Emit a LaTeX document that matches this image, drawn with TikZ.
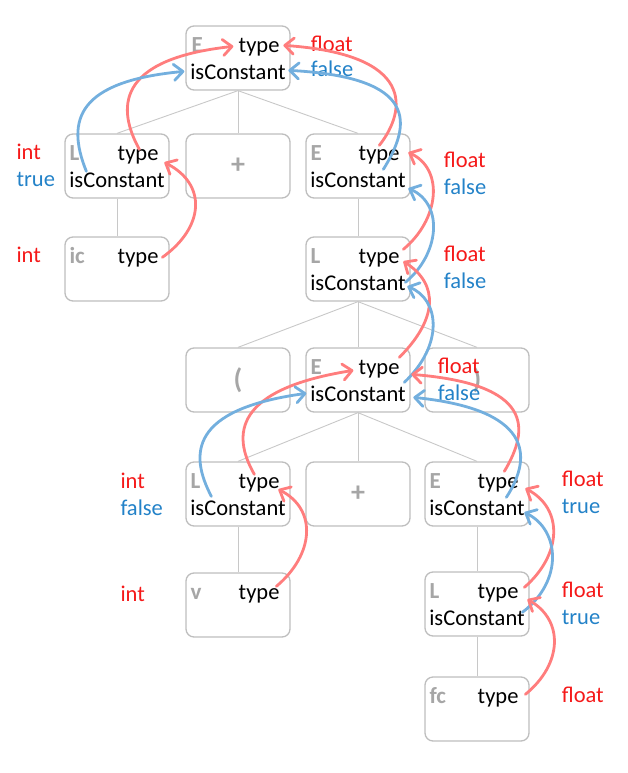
\documentclass[tikz,border=0pt]{standalone}
\usepackage{fontspec}
\setmainfont{Carlito}
\usetikzlibrary{calc,arrows.meta}
\definecolor{boxgray}{RGB}{190,190,190}
\definecolor{treegray}{RGB}{200,200,200}
\definecolor{labgray}{RGB}{166,166,166}
\definecolor{txtred}{RGB}{245,25,25}
\definecolor{txtblue}{RGB}{35,130,200}
\definecolor{arrred}{RGB}{255,125,125}
\definecolor{arrblue}{RGB}{115,175,222}
\begin{document}
\begin{tikzpicture}[x=1pt,y=-1pt,
  font=\fontsize{22.5}{27}\selectfont,
  box/.style={draw=boxgray, line width=1.3pt, rounded corners=8pt, minimum width=104pt, minimum height=64pt, inner sep=0pt, fill=white},
  tree/.style={draw=treegray, line width=0.9pt},
  typ/.style={inner sep=0pt, anchor=base east, text=black},
  isc/.style={inner sep=0pt, anchor=base, text=black},
  lab/.style={inner sep=0pt, anchor=base west, text=labgray, font=\fontsize{23}{27}\selectfont\bfseries},
  sym/.style={inner sep=0pt, text=labgray, font=\fontsize{28}{32}\selectfont\bfseries},
  rl/.style={inner sep=0pt, anchor=base west, text=txtred},
  bl/.style={inner sep=0pt, anchor=base west, text=txtblue},
  ra/.style={draw=arrred, line width=2.8pt, line cap=round, -{Straight Barb[length=9pt,width=16pt,round]}},
  ba/.style={draw=arrblue, line width=2.8pt, line cap=round, -{Straight Barb[length=9pt,width=16pt,round]}}]
\useasboundingbox (0,0) rectangle (627,773);

% boxes
\node[box] (root) at (238,58) {};
\node[box] (L2) at (117,166) {};
\node[box] (P2) at (238,166) {};
\node[box] (E2) at (358,166) {};
\node[box] (IC) at (117,269) {};
\node[box] (L3) at (358,269) {};
\node[box] (LP) at (238,380) {};
\node[box] (E4) at (358,380) {};
\node[box] (RP) at (477,380) {};
\node[box] (L5) at (238,494) {};
\node[box] (P5) at (358,494) {};
\node[box] (E5) at (477,494) {};
\node[box] (V) at (238,605) {};
\node[box] (L6) at (477,604) {};
\node[box] (FC) at (477,709) {};

% tree lines
\draw[tree] (root.south) -- (L2.north);
\draw[tree] (root.south) -- (P2.north);
\draw[tree] (root.south) -- (E2.north);
\draw[tree] (L2.south) -- (IC.north);
\draw[tree] (E2.south) -- (L3.north);
\draw[tree] (L3.south) -- (LP.north);
\draw[tree] (L3.south) -- (E4.north);
\draw[tree] (L3.south) -- (RP.north);
\draw[tree] (E4.south) -- (L5.north);
\draw[tree] (E4.south) -- (P5.north);
\draw[tree] (E4.south) -- (E5.north);
\draw[tree] (L5.south) -- (V.north);
\draw[tree] (E5.south) -- (L6.north);
\draw[tree] (L6.south) -- (FC.north);

% box contents
\node[lab] (rootL) at ($(root.north west)+(6,27.5)$) {E};
\node[typ] (rootT) at ($(root.north east)+(-11,27.5)$) {type};
\node[isc] (rootC) at ($(root.north)+(0,54.5)$) {isConstant};

\node[lab] (L2L) at ($(L2.north west)+(5,27.5)$) {L};
\node[typ] (L2T) at ($(L2.north east)+(-11,27.5)$) {type};
\node[isc] (L2C) at ($(L2.north)+(0,54.5)$) {isConstant};

\node[sym] (P2s) at (P2) {+};

\node[lab] (E2L) at ($(E2.north west)+(5,27.5)$) {E};
\node[typ] (E2T) at ($(E2.north east)+(-11,27.5)$) {type};
\node[isc] (E2C) at ($(E2.north)+(0,54.5)$) {isConstant};

\node[lab] (ICL) at ($(IC.north west)+(5,27.5)$) {ic};
\node[typ] (ICT) at ($(IC.north east)+(-11,27.5)$) {type};

\node[lab] (L3L) at ($(L3.north west)+(5,27.5)$) {L};
\node[typ] (L3T) at ($(L3.north east)+(-11,27.5)$) {type};
\node[isc] (L3C) at ($(L3.north)+(0,54.5)$) {isConstant};

\node[sym] (LPs) at (LP) {(};
\node[sym] (RPs) at (RP) {)};

\node[lab] (E4L) at ($(E4.north west)+(5,27.5)$) {E};
\node[typ] (E4T) at ($(E4.north east)+(-11,27.5)$) {type};
\node[isc] (E4C) at ($(E4.north)+(0,54.5)$) {isConstant};

\node[lab] (L5L) at ($(L5.north west)+(5,27.5)$) {L};
\node[typ] (L5T) at ($(L5.north east)+(-11,27.5)$) {type};
\node[isc] (L5C) at ($(L5.north)+(0,54.5)$) {isConstant};

\node[sym] (P5s) at (P5) {+};

\node[lab] (E5L) at ($(E5.north west)+(5,27.5)$) {E};
\node[typ] (E5T) at ($(E5.north east)+(-11,27.5)$) {type};
\node[isc] (E5C) at ($(E5.north)+(0,54.5)$) {isConstant};

\node[lab] (VL) at ($(V.north west)+(5,27.5)$) {v};
\node[typ] (VT) at ($(V.north east)+(-11,27.5)$) {type};

\node[lab] (L6L) at ($(L6.north west)+(5,27.5)$) {L};
\node[typ] (L6T) at ($(L6.north east)+(-11,27.5)$) {type};
\node[isc] (L6C) at ($(L6.north)+(0,54.5)$) {isConstant};

\node[lab] (FCL) at ($(FC.north west)+(5,27.5)$) {fc};
\node[typ] (FCT) at ($(FC.north east)+(-11,27.5)$) {type};

% attribute values
\node[rl] (rootF) at ($(root.north east)+(20,25.7)$) {float};
\node[bl] (rootB) at ($(root.north east)+(20,51.3)$) {false};
\node[rl] (L2F) at ($(L2.north west)+(-48,26)$) {int};
\node[bl] (L2B) at ($(L2.north west)+(-48,52.7)$) {true};
\node[rl] (ICF) at ($(IC.north west)+(-48,25.7)$) {int};
\node[rl] (E2F) at ($(E2.north east)+(33,34.3)$) {float};
\node[bl] (E2B) at ($(E2.north east)+(33,61)$) {false};
\node[rl] (L3F) at ($(L3.north east)+(33,25.3)$) {float};
\node[bl] (L3B) at ($(L3.north east)+(33,52)$) {false};
\node[rl] (E4F) at ($(E4.north east)+(27,26)$) {float};
\node[bl] (E4B) at ($(E4.north east)+(27,52.7)$) {false};
\node[rl] (L5F) at ($(L5.north west)+(-65,27)$) {int};
\node[bl] (L5B) at ($(L5.north west)+(-65,54)$) {false};
\node[rl] (VF) at ($(V.north west)+(-65,28.7)$) {int};
\node[rl] (E5F) at ($(E5.north east)+(32,25.3)$) {float};
\node[bl] (E5B) at ($(E5.north east)+(32,52)$) {true};
\node[rl] (L6F) at ($(L6.north east)+(32,26.3)$) {float};
\node[bl] (L6B) at ($(L6.north east)+(32,53)$) {true};
\node[rl] (FCF) at ($(FC.north east)+(32,26)$) {float};

% attribute flow arrows
\draw[ra] ($(L2.north west)+(75,16)$) .. controls +(-22,-40) and +(-119,13) .. ($(root.north west)+(48,21)$);
\draw[ba] ($(L2.north west)+(22,38)$) .. controls +(-21,-52) and +(-106,10) .. ($(root.north west)+(-1,46)$);
\draw[ra] ($(E2.north west)+(74,12)$) .. controls +(28,-36) and +(131,9) .. ($(root.north west)+(98,20)$);
\draw[ba] ($(E2.north west)+(78,36)$) .. controls +(28,-45) and +(131,7) .. ($(root.north west)+(103,45)$);

\draw[ra] ($(IC.north west)+(98,21)$) .. controls +(42,-30) and +(43,22) .. ($(L2.north west)+(100,29)$);
\draw[ra] ($(L3.north west)+(98,13)$) .. controls +(36,-30) and +(36,17) .. ($(E2.north west)+(103,19)$);
\draw[ba] ($(L3.north west)+(100,46)$) .. controls +(34,-28) and +(36,16) .. ($(E2.north west)+(103,55)$);

\draw[ra] ($(E4.north west)+(94,10)$) .. controls +(38,-38) and +(36,23) .. ($(L3.north west)+(98,25)$);
\draw[ba] ($(E4.north west)+(99,35)$) .. controls +(40,-38) and +(32,13) .. ($(L3.north west)+(102,50)$);

\draw[ra] ($(L5.north west)+(69,13)$) .. controls +(-23,-40) and +(-119,19) .. ($(E4.north west)+(48,23)$);
\draw[ba] ($(L5.north west)+(26,35)$) .. controls +(-22,-42) and +(-117,16) .. ($(E4.north west)+(1,46)$);
\draw[ra] ($(E5.north west)+(80,10)$) .. controls +(25,-42) and +(123,10) .. ($(E4.north west)+(106,27)$);
\draw[ba] ($(E5.north west)+(82,36)$) .. controls +(28,-43) and +(116,12) .. ($(E4.north west)+(108,50)$);

\draw[ra] ($(V.north west)+(91,14)$) .. controls +(38,-32) and +(39,20) .. ($(L5.north west)+(93,28)$);
\draw[ra] ($(L6.north west)+(100,16)$) .. controls +(37,-32) and +(39,21) .. ($(E5.north west)+(101,27)$);
\draw[ba] ($(L6.north west)+(98,41)$) .. controls +(42,-32) and +(35,17) .. ($(E5.north west)+(100,51)$);
\draw[ra] ($(FC.north west)+(101,18)$) .. controls +(37,-30) and +(37,21) .. ($(L6.north west)+(103,28)$);
\end{tikzpicture}
\end{document}
